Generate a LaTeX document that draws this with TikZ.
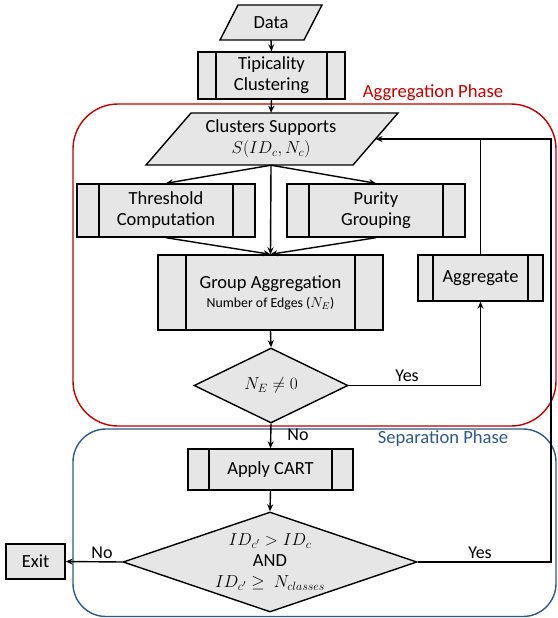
\documentclass[tikz,border=0pt]{standalone}
\usepackage{fontspec}
\setmainfont{Carlito}
\usetikzlibrary{arrows.meta,shapes.geometric,calc}
\definecolor{phasered}{RGB}{192,0,0}
\definecolor{phaseblue}{RGB}{46,89,135}
\definecolor{boxfill}{RGB}{230,230,230}
\begin{document}
\begin{tikzpicture}[x=1pt,y=-1pt,
  every node/.style={font=\fontsize{18.5}{21}\selectfont},
  base/.style={draw=black, line width=1.4pt, fill=boxfill, align=center, inner sep=0pt},
  procbox/.style={base, rectangle, path picture={
      \draw[line width=1.4pt] ([xshift=#1]path picture bounding box.north west) -- ([xshift=#1]path picture bounding box.south west);
      \draw[line width=1.4pt] ([xshift=-#1]path picture bounding box.north east) -- ([xshift=-#1]path picture bounding box.south east);}},
  plainbox/.style={base, rectangle},
  iobox/.style={draw=black, line width=1.4pt, fill=boxfill, line join=miter},
  iotext/.style={align=center, inner sep=0pt},
  decision/.style={base, diamond},
  arr/.style={-{Stealth[length=7pt,width=6pt]}, line width=1.4pt},
  link/.style={line width=1.4pt},
  lbl/.style={font=\fontsize{18}{20}\selectfont, inner sep=0pt},
  phase/.style={line width=1.4pt, rounded corners=#1},
]
\useasboundingbox (0,0) rectangle (557,618);

% phase frames
\draw[phase=45pt, phasered] (73,104) rectangle (556,426);
\draw[phase=33pt, phaseblue] (73,429) rectangle (556,616.5);
\node[lbl, font=\fontsize{18.6}{20}\selectfont, text=phasered] (aggphase) at (433,93) {Aggregation Phase};
\node[lbl, font=\fontsize{18.6}{20}\selectfont, text=phaseblue] (sepphase) at (443,439) {Separation Phase};

% input data
\coordinate (dataC) at (271,22.5);
\draw[iobox] ($(dataC)+(-51,17.5)$) -- ($(dataC)+(33,17.5)$) -- ($(dataC)+(51,-17.5)$) -- ($(dataC)+(-33,-17.5)$) -- cycle;
\node[iotext, minimum height=35pt, minimum width=60pt] (data) at (dataC) {Data};

\node[procbox=18pt, minimum width=147pt, minimum height=47pt] (tip) at (271.5,75.5) {Tipicality\\Clustering};

% cluster supports
\coordinate (csC) at (271,139);
\draw[iobox] ($(csC)+(-125,26)$) -- ($(csC)+(82,26)$) -- ($(csC)+(127,-26)$) -- ($(csC)+(-80,-26)$) -- cycle;
\node[iotext, minimum height=52pt, minimum width=150pt] (cs) at (csC) {Clusters Supports\\$S(ID_c,N_c)$};
\coordinate (cs-e) at (375.5,139);

\node[procbox=22pt, minimum width=178pt, minimum height=53pt] (thr) at (166,210.5) {Threshold\\Computation};
\node[procbox=22pt, minimum width=178pt, minimum height=53pt] (pur) at (376,210.5) {Purity\\Grouping};
\node[procbox=28pt, minimum width=225pt, minimum height=75pt] (ga) at (270.5,292.5)
  {Group Aggregation\\[-2pt]{\fontsize{13.8}{16}\selectfont Number of Edges ($N_E$)}};
\node[procbox=15pt, minimum width=125pt, minimum height=46pt] (agg) at (480.5,278) {Aggregate};

\node[decision, minimum width=154pt, minimum height=75pt, aspect=2.05] (d1) at (271,385.5) {$N_E\neq 0$};

\node[procbox=21pt, minimum width=165pt, minimum height=41pt] (cart) at (270.5,469.5) {Apply CART};

\node[decision, minimum width=294pt, minimum height=100pt, aspect=2.94] (d2) at (270,562)
  {$ID_{c'}>ID_c$\\AND\\$ID_{c'}\geq\ N_{classes}$};

\node[plainbox, minimum width=59pt, minimum height=35pt] (exit) at (35.5,561.5) {Exit};

% connectors
\draw[arr] (data.south) -- (tip.north);
\draw[arr] (tip.south) -- (cs.north);
\draw[arr] (cs.south) -- (thr.north);
\draw[arr] (cs.south) -- (pur.north);
\draw[arr] (cs.south) -- (ga.north);
\draw[arr] (thr.south) -- (ga.north);
\draw[arr] (pur.south) -- (ga.north);
\draw[arr] (ga.south) -- (d1.north);
\draw[arr] (d1.east) -| (agg.south);
\draw[arr] (agg.north) |- (cs-e);
\draw[arr] (d1.south) -- (cart.north);
\draw[arr] (cart.south) -- (d2.north);
\draw[arr] (d2.west) -- (exit.east);
\coordinate (loop) at (551,139);
\draw[link] (d2.east) -| (loop) -- (agg.north |- loop);

% branch labels
\node[lbl] (yes1) at (407,376) {Yes};
\node[lbl] (no1) at (298,435) {No};
\node[lbl] (no2) at (102,553) {No};
\node[lbl] (yes2) at (480,553) {Yes};
\end{tikzpicture}
\end{document}
